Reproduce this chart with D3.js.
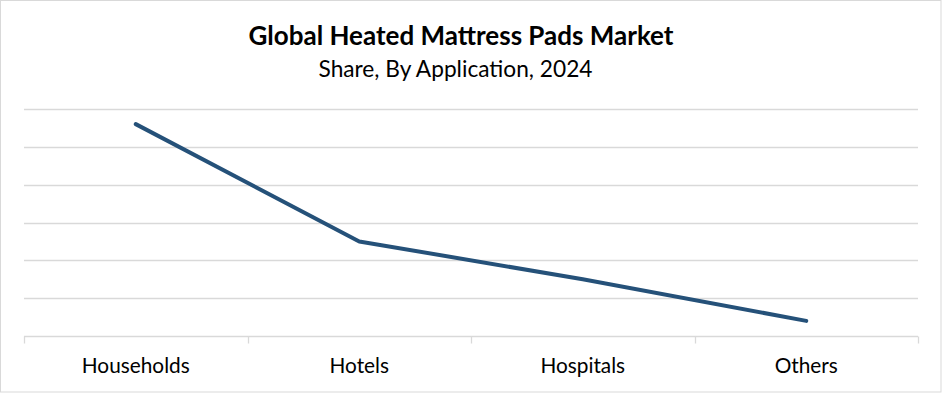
<!DOCTYPE html>
<html>
<head>
<meta charset="utf-8">
<script src="https://cdn.jsdelivr.net/npm/d3@7"></script>
<style>
  body { margin: 0; background: #fff; }
  svg { display: block; }
  text { font-family: Lato, "Open Sans", sans-serif; fill: #000; }
</style>
</head>
<body>
<svg id="chart" width="942" height="393"></svg>
<script>
// chart data
var categories = ["Households", "Hotels", "Hospitals", "Others"];
var shareValues = [56, 25, 15, 4];
var gridTicks = [0, 10, 20, 30, 40, 50, 60];

var svg = d3.select("#chart");
var width = 942, height = 393;
var margin = { top: 109, right: 24, bottom: 57, left: 24 };

// outer border
svg.append("rect")
    .attr("x", 0.5)
    .attr("y", 0.5)
    .attr("width", width - 1.5)
    .attr("height", height - 1.5)
    .attr("fill", "#fff")
    .attr("stroke", "#d9d9d9")
    .attr("stroke-width", 1);

var data = categories.map(function (c, i) {
    return { name: c, value: shareValues[i] };
});

var x = d3.scaleBand()
    .domain(categories)
    .range([margin.left, width - margin.right]);

var y = d3.scaleLinear()
    .domain([0, 60])
    .range([height - margin.bottom, margin.top]);

// horizontal gridlines
svg.append("g")
    .selectAll("line")
    .data(gridTicks.slice(1))
    .enter()
    .append("line")
    .attr("x1", margin.left)
    .attr("x2", width - margin.right)
    .attr("y1", function (d) { return Math.round(y(d)) + 0.5; })
    .attr("y2", function (d) { return Math.round(y(d)) + 0.5; })
    .attr("stroke", "#d9d9d9")
    .attr("stroke-width", 1.3);

// category axis
var xAxis = svg.append("g")
    .attr("transform", "translate(0," + (Math.round(y(0)) + 0.5) + ")")
    .call(d3.axisBottom(x).tickSize(0).tickPadding(0));
xAxis.select(".domain").remove();
xAxis.append("line")
    .attr("x1", margin.left)
    .attr("x2", width - margin.right)
    .attr("stroke", "#d9d9d9")
    .attr("stroke-width", 1.3);

// tick marks between categories
var boundaries = categories.map(function (c) { return x(c); }).concat([x.range()[1]]);
xAxis.selectAll(".sep")
    .data(boundaries)
    .enter()
    .append("line")
    .attr("class", "sep")
    .attr("x1", function (d) { return Math.round(d) + 0.5; })
    .attr("x2", function (d) { return Math.round(d) + 0.5; })
    .attr("y1", 0)
    .attr("y2", 7)
    .attr("stroke", "#d9d9d9")
    .attr("stroke-width", 1.3);

xAxis.selectAll(".tick text")
    .attr("y", 36.5)
    .attr("dy", 0)
    .style("font-size", "20.8px")
    .style("font-family", "Lato, sans-serif")
    .attr("fill", "#000");

// line
var line = d3.line()
    .x(function (d) { return x(d.name) + x.bandwidth() / 2; })
    .y(function (d) { return y(d.value); });

svg.append("path")
    .datum(data)
    .attr("fill", "none")
    .attr("stroke", "#255179")
    .attr("stroke-width", 4)
    .attr("stroke-linejoin", "round")
    .attr("stroke-linecap", "round")
    .attr("d", line);

// titles
svg.append("text")
    .attr("x", 461)
    .attr("y", 44.5)
    .attr("text-anchor", "middle")
    .style("font-size", "26px")
    .style("font-weight", "bold")
    .text("Global Heated Mattress Pads Market");

svg.append("text")
    .attr("x", 455.5)
    .attr("y", 77)
    .attr("text-anchor", "middle")
    .style("font-size", "22.7px")
    .text("Share, By Application, 2024");
</script>
</body>
</html>
